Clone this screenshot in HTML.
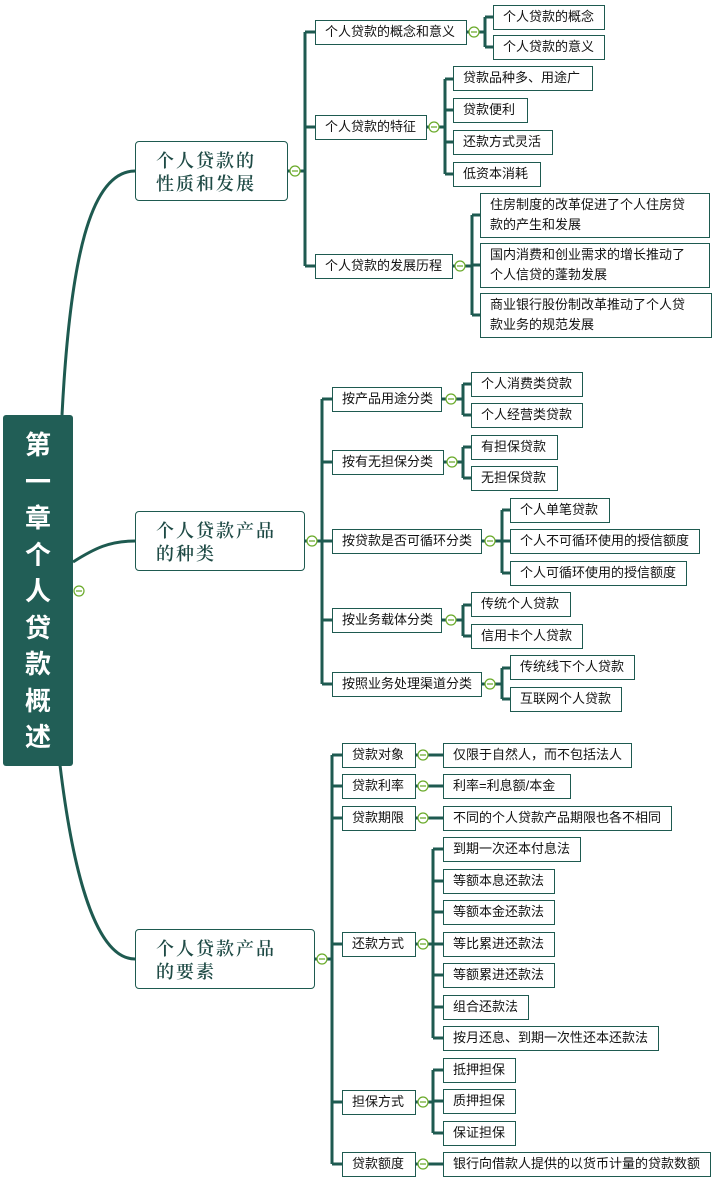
<!DOCTYPE html>
<html><head><meta charset="utf-8"><style>
body{margin:0;width:720px;height:1186px;background:#fff;position:relative;overflow:hidden;font-family:"Liberation Sans","Noto Sans CJK SC",sans-serif}
.b{position:absolute;box-sizing:border-box;border:1.5px solid #1e5a50;background:#fff;font-size:13px;color:#111;padding-left:9px;height:25px;line-height:22px;white-space:nowrap}
.t{height:45px;line-height:20px;padding-top:1px;padding-right:14px;white-space:normal}
.l1{position:absolute;box-sizing:border-box;border:1.5px solid #1e5a50;border-radius:4px;background:#fff;font-family:"Noto Serif CJK SC",serif;font-weight:600;font-size:18px;letter-spacing:2px;color:#1e4a45;line-height:23px;padding:7px 0 0 20px;height:60px}
.root{position:absolute;left:3px;top:415px;width:70px;height:351px;background:#215e56;border-radius:3px;color:#fff;font-weight:bold;font-size:26px;text-align:center;line-height:36.5px;padding-top:12px;box-sizing:border-box}
svg{position:absolute;left:0;top:0}
</style></head><body>
<svg width="720" height="1186" fill="none">
<g stroke="#1e5a50" stroke-width="3">
<path d="M62,415 C70,260 90,171 135,171"/>
<path d="M73,562 C95,548 110,541 135,541"/>
<path d="M60,765 C75,890 100,959 135,959"/>
<path d="M288,171 H305 M305,32 V266 M305,32 H315 M305,127 H315 M305,266 H315"/>
<path d="M467,32 H485 M485,17 V47 M485,17 H493 M485,47 H493"/>
<path d="M427,127 H445 M445,79 V174 M445,79 H453 M445,110 H453 M445,142 H453 M445,174 H453"/>
<path d="M453,266 H472 M472,215 V315 M472,215 H480 M472,265 H480 M472,315 H480"/>
<path d="M305,541 H322 M322,399 V684 M322,399 H332 M322,462 H332 M322,541 H332 M322,620 H332 M322,684 H332"/>
<path d="M442,399 H463 M463,384 V415 M463,384 H471 M463,415 H471"/>
<path d="M444,462 H463 M463,447 V478 M463,447 H471 M463,478 H471"/>
<path d="M482,541 H502 M502,510 V573 M502,510 H510 M502,541 H510 M502,573 H510"/>
<path d="M442,620 H463 M463,605 V636 M463,605 H471 M463,636 H471"/>
<path d="M482,684 H502 M502,668 V699 M502,668 H510 M502,699 H510"/>
<path d="M315,959 H332 M332,755 V1164 M332,755 H342 M332,786 H342 M332,818 H342 M332,944 H342 M332,1102 H342 M332,1164 H342"/>
<path d="M416,755 H443 M416,786 H443 M416,818 H443 M416,1164 H443"/>
<path d="M416,944 H433 M433,849 V1038 M433,849 H443 M433,881 H443 M433,912 H443 M433,944 H443 M433,975 H443 M433,1007 H443 M433,1038 H443"/>
<path d="M416,1102 H433 M433,1070 V1133 M433,1070 H443 M433,1101 H443 M433,1133 H443"/>
</g>
<g stroke="#6aaa2a" stroke-width="1.2" fill="#fff">
<circle cx="79" cy="591" r="5"/><circle cx="295" cy="171" r="5"/><circle cx="312" cy="541" r="5"/><circle cx="322" cy="959" r="5"/>
<circle cx="474" cy="32" r="5"/><circle cx="434" cy="127" r="5"/><circle cx="460" cy="266" r="5"/>
<circle cx="451" cy="399" r="5"/><circle cx="452" cy="462" r="5"/><circle cx="490" cy="541" r="5"/><circle cx="451" cy="620" r="5"/><circle cx="490" cy="684" r="5"/>
<circle cx="423" cy="755" r="5"/><circle cx="423" cy="786" r="5"/><circle cx="423" cy="818" r="5"/><circle cx="423" cy="944" r="5"/><circle cx="423" cy="1102" r="5"/><circle cx="423" cy="1164" r="5"/>
</g>
<g stroke="#6aaa2a" stroke-width="1.2">
<path d="M76,591h6M292,171h6M309,541h6M319,959h6M471,32h6M431,127h6M457,266h6M448,399h6M449,462h6M487,541h6M448,620h6M487,684h6M420,755h6M420,786h6M420,818h6M420,944h6M420,1102h6M420,1164h6"/>
</g>
</svg>
<div class="root">第<br>一<br>章<br>个<br>人<br>贷<br>款<br>概<br>述</div>
<div class="l1" style="left:135px;top:141px;width:153px">个人贷款的<br>性质和发展</div>
<div class="l1" style="left:135px;top:511px;width:170px">个人贷款产品<br>的种类</div>
<div class="l1" style="left:135px;top:929px;width:180px">个人贷款产品<br>的要素</div>

<div class="b" style="left:315px;top:20px;width:152px">个人贷款的概念和意义</div>
<div class="b" style="left:493px;top:5px;width:112px">个人贷款的概念</div>
<div class="b" style="left:493px;top:35px;width:112px">个人贷款的意义</div>
<div class="b" style="left:315px;top:115px;width:112px">个人贷款的特征</div>
<div class="b" style="left:453px;top:66px;width:140px">贷款品种多、用途广</div>
<div class="b" style="left:453px;top:98px;width:75px">贷款便利</div>
<div class="b" style="left:453px;top:130px;width:100px">还款方式灵活</div>
<div class="b" style="left:453px;top:162px;width:88px">低资本消耗</div>
<div class="b" style="left:315px;top:254px;width:138px">个人贷款的发展历程</div>
<div class="b t" style="left:480px;top:193px;width:230px">住房制度的改革促进了个人住房贷款的产生和发展</div>
<div class="b t" style="left:480px;top:243px;width:230px">国内消费和创业需求的增长推动了个人信贷的蓬勃发展</div>
<div class="b t" style="left:480px;top:293px;width:232px">商业银行股份制改革推动了个人贷款业务的规范发展</div>

<div class="b" style="left:332px;top:387px;width:110px">按产品用途分类</div>
<div class="b" style="left:471px;top:372px;width:112px">个人消费类贷款</div>
<div class="b" style="left:471px;top:403px;width:112px">个人经营类贷款</div>
<div class="b" style="left:332px;top:450px;width:112px">按有无担保分类</div>
<div class="b" style="left:471px;top:435px;width:87px">有担保贷款</div>
<div class="b" style="left:471px;top:466px;width:87px">无担保贷款</div>
<div class="b" style="left:332px;top:529px;width:150px">按贷款是否可循环分类</div>
<div class="b" style="left:510px;top:498px;width:100px">个人单笔贷款</div>
<div class="b" style="left:510px;top:529px;width:190px">个人不可循环使用的授信额度</div>
<div class="b" style="left:510px;top:561px;width:177px">个人可循环使用的授信额度</div>
<div class="b" style="left:332px;top:608px;width:110px">按业务载体分类</div>
<div class="b" style="left:471px;top:592px;width:100px">传统个人贷款</div>
<div class="b" style="left:471px;top:624px;width:112px">信用卡个人贷款</div>
<div class="b" style="left:332px;top:672px;width:150px">按照业务处理渠道分类</div>
<div class="b" style="left:510px;top:655px;width:125px">传统线下个人贷款</div>
<div class="b" style="left:510px;top:687px;width:112px">互联网个人贷款</div>

<div class="b" style="left:342px;top:743px;width:74px">贷款对象</div>
<div class="b" style="left:443px;top:743px;width:189px">仅限于自然人，而不包括法人</div>
<div class="b" style="left:342px;top:774px;width:74px">贷款利率</div>
<div class="b" style="left:443px;top:774px;width:128px">利率=利息额/本金</div>
<div class="b" style="left:342px;top:806px;width:74px">贷款期限</div>
<div class="b" style="left:443px;top:806px;width:229px">不同的个人贷款产品期限也各不相同</div>
<div class="b" style="left:342px;top:932px;width:74px">还款方式</div>
<div class="b" style="left:443px;top:837px;width:138px">到期一次还本付息法</div>
<div class="b" style="left:443px;top:869px;width:112px">等额本息还款法</div>
<div class="b" style="left:443px;top:900px;width:112px">等额本金还款法</div>
<div class="b" style="left:443px;top:932px;width:112px">等比累进还款法</div>
<div class="b" style="left:443px;top:963px;width:112px">等额累进还款法</div>
<div class="b" style="left:443px;top:995px;width:86px">组合还款法</div>
<div class="b" style="left:443px;top:1026px;width:216px">按月还息、到期一次性还本还款法</div>
<div class="b" style="left:342px;top:1090px;width:74px">担保方式</div>
<div class="b" style="left:443px;top:1058px;width:73px">抵押担保</div>
<div class="b" style="left:443px;top:1089px;width:73px">质押担保</div>
<div class="b" style="left:443px;top:1121px;width:73px">保证担保</div>
<div class="b" style="left:342px;top:1152px;width:74px">贷款额度</div>
<div class="b" style="left:443px;top:1152px;width:268px">银行向借款人提供的以货币计量的贷款数额</div>
</body></html>
